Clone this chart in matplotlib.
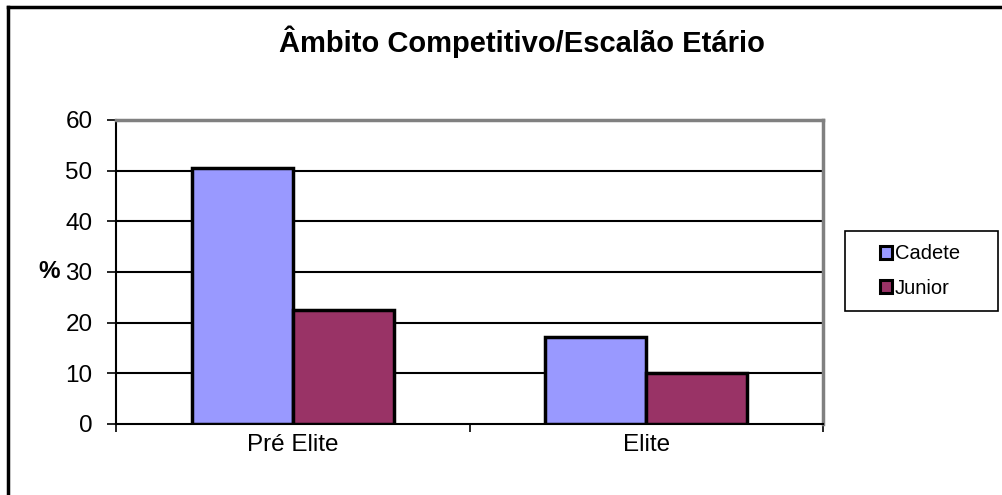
import matplotlib
matplotlib.use("Agg")
import matplotlib.pyplot as plt
from matplotlib.lines import Line2D
from matplotlib.patches import Rectangle
import numpy as np

plt.rcParams['font.family'] = ['Liberation Sans', 'DejaVu Sans']

categories = ["Pré Elite", "Elite"]
series_names = ["Cadete", "Junior"]
cadete = [50.5, 17.2]
junior = [22.5, 10.0]
colors = ["#9999FF", "#993366"]
yticks = [0, 10, 20, 30, 40, 50, 60]

W, H = 1003, 495
fig = plt.figure(figsize=(W / 100, H / 100), dpi=100)
ax = fig.add_axes([116 / W, 1 - 424 / H, (823 - 116) / W, (424 - 120) / H])

x = np.arange(len(categories))
bw = 0.286
ax.bar(x - bw / 2, cadete, bw, color=colors[0], edgecolor="black", linewidth=2.5, label=series_names[0], zorder=3)
ax.bar(x + bw / 2, junior, bw, color=colors[1], edgecolor="black", linewidth=2.5, label=series_names[1], zorder=3)

ax.set_xlim(-0.5, len(categories) - 0.5)
ax.set_ylim(0, 60)
ax.set_yticks(yticks)
ax.set_yticklabels([str(v) for v in yticks], fontsize=17.5)
ax.set_xticks([-0.5, 0.5, 1.5], minor=False)
ax.set_xticklabels([])
ax.set_xticks(x, minor=True)
ax.set_xticklabels(categories, minor=True, fontsize=17.5)
ax.tick_params(axis='x', which='minor', length=0, pad=7)
ax.tick_params(axis='x', which='major', length=6, direction='out', width=1.2, color='black')
ax.tick_params(axis='y', length=6.5, direction='out', width=1.2, pad=10.5)

for v in yticks[1:-1]:
    ax.axhline(v, color="black", linewidth=1.5, zorder=1)

for s in ["top", "right"]:
    ax.spines[s].set_color("#808080")
    ax.spines[s].set_linewidth(2.5)
for s in ["left", "bottom"]:
    ax.spines[s].set_color("black")
    ax.spines[s].set_linewidth(1.5)

ax.set_ylabel("%", fontsize=17.5, fontweight="bold", rotation=0, ha="right", va="center")
ax.yaxis.set_label_coords(-0.079, 0.5)

fig.text(522 / W, 1 - 42 / H, "Âmbito Competitivo/Escalão Etário", fontsize=21, fontweight="bold",
         ha="center", va="center")

# legend box
fig.add_artist(Rectangle((845 / W, 1 - 311 / H), (998 - 845) / W, (311 - 231) / H,
                         transform=fig.transFigure, facecolor="white", edgecolor="black", linewidth=1.2))
leg = fig.legend(loc="center left", bbox_to_anchor=(880 / W, 1 - 271 / H), fontsize=14.5, frameon=False,
                 handlelength=0.6, handleheight=0.6,
                 handletextpad=0.15, labelspacing=0.75, borderpad=0.0, borderaxespad=0)
for p in leg.get_patches():
    p.set_linewidth(2.2)

fig.add_artist(Line2D([8 / W, 8 / W], [1 - 493 / H, 1 - 7 / H], color="black", linewidth=2.5, transform=fig.transFigure))
fig.add_artist(Line2D([8 / W, 1002 / W], [1 - 7 / H, 1 - 7 / H], color="black", linewidth=2.5, transform=fig.transFigure))

fig.savefig("out.png", dpi=100)
